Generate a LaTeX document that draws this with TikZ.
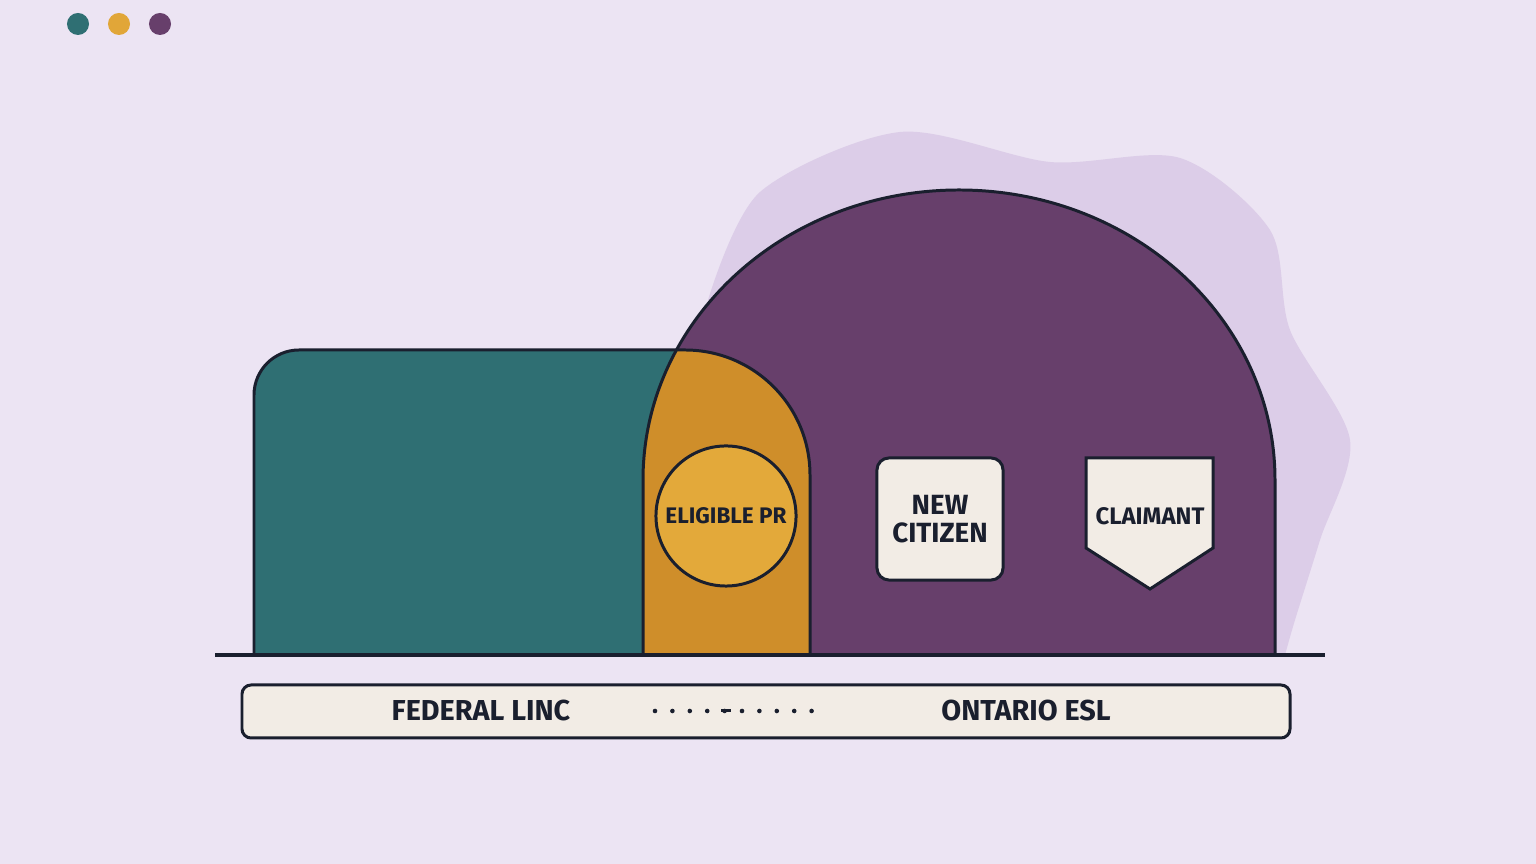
\documentclass[tikz,border=0pt]{standalone}
\usepackage{fontspec}
\setmainfont{Fira Sans}
\definecolor{bgc}{HTML}{ECE4F3}
\definecolor{blobc}{HTML}{DCCDE8}
\definecolor{tealc}{HTML}{2F6F73}
\definecolor{orangec}{HTML}{CF8E2A}
\definecolor{goldc}{HTML}{E3A93A}
\definecolor{purplec}{HTML}{673F6B}
\definecolor{inkc}{HTML}{1A1F2E}
\definecolor{paperc}{HTML}{F2ECE5}
\tikzset{
  edge/.style={draw=inkc,line width=0.85pt},
  lbl/.style={font=\bfseries\fontsize{#1}{9}\selectfont,text=inkc,align=center},
  lbl/.default=7.2,
  dot/.style={circle,inner sep=0pt,minimum size=0.22cm}
}
\begin{document}
\begin{tikzpicture}[x=0.01cm,y=0.01cm]
\fill[bgc] (0,0) rectangle (1536,864);
\useasboundingbox (0,0) rectangle (1536,864);
% window dots
\node[dot,fill=tealc] (d1) at (78,840) {};
\node[dot,fill=goldc!90!orangec] (d2) at (119,840) {};
\node[dot,fill=purplec] (d3) at (160,840) {};
% soft blob behind the dome
\fill[blobc] plot[smooth] coordinates {(708,564) (760,672) (900,732) (1050,702) (1180,706) (1270,634) (1290,534) (1350,424) (1320,324) (1295,244) (1285,209)} -- (1000,209) -- cycle;
% teal block and dome
\def\tealpath{(254,209) -- (254,469) arc[start angle=180,end angle=90,radius=45] -- (685,514) arc[start angle=90,end angle=0,radius=125] -- (810,209) -- cycle}
\def\domepath{(643,209) -- (643,384) arc[start angle=180,end angle=0,x radius=316,y radius=290] -- (1275,209) -- cycle}
\fill[tealc] \tealpath;
\fill[purplec] \domepath;
\begin{scope}
  \clip \tealpath;
  \fill[orangec] \domepath;
\end{scope}
\draw[edge] \tealpath;
\draw[edge] \domepath;
% labels inside
\node[circle,edge,fill=goldc,inner sep=0pt,minimum size=1.4cm,lbl=6.4] (pr) at (726,348) {ELIGIBLE PR};
\node[rounded corners=0.12cm,edge,fill=paperc,minimum width=1.26cm,minimum height=1.22cm,lbl=7.9] (cit) at (940,345) {NEW\\[-1pt]CITIZEN};
\draw[edge,fill=paperc] (1086,406) -- (1213,406) -- (1213,316) -- (1150,275) -- (1086,316) -- cycle;
\node[lbl=6.8] (cla) at (1150,348) {CLAIMANT};
% ground line
\coordinate (g1) at (215,209);
\coordinate (g2) at (1325,209);
\draw[edge,line width=1pt] (g1) -- (g2);
% bottom bar
\draw[edge,fill=paperc,rounded corners=0.09cm] (242,126) rectangle (1290,179);
\node[lbl=8.2] (fed) at (481,153) {FEDERAL LINC};
\node[lbl=8.2] (ont) at (1026,153) {ONTARIO ESL};
\foreach \i in {0,...,9}
  \fill[inkc] (655+\i*17.4,153) circle (2.3);
\fill[inkc] (721,151.5) rectangle (731,155);
\end{tikzpicture}
\end{document}
